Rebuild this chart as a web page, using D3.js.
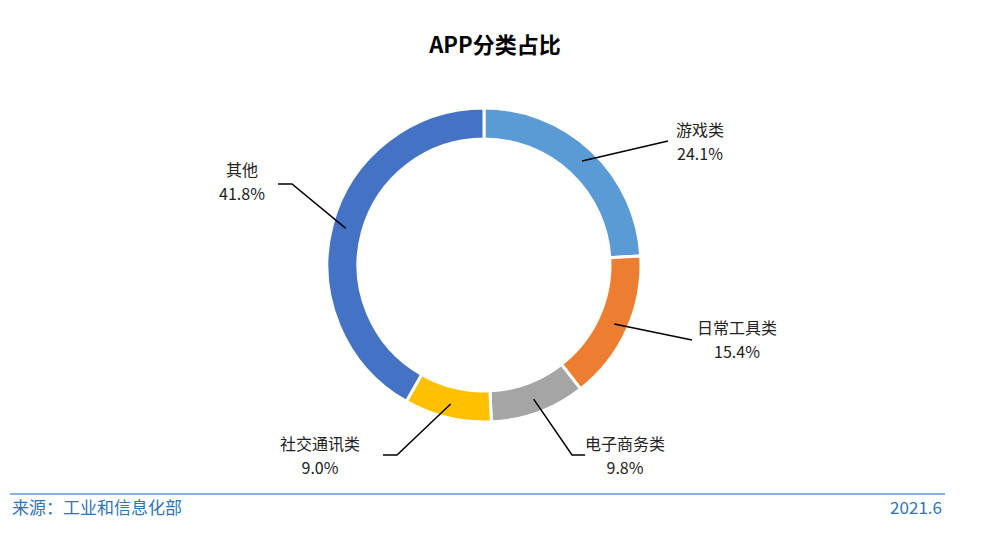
<!DOCTYPE html>
<html><head><meta charset="utf-8">
<script src="https://cdn.jsdelivr.net/npm/d3@7"></script>
<style>body{margin:0;background:#fff}text{font-family:"Noto Sans CJK SC","Noto Sans",sans-serif}</style>
</head><body>
<script>
var categories = ["游戏类", "日常工具类", "电子商务类", "社交通讯类", "其他"];
var values = [24.1, 15.4, 9.8, 9.0, 41.8];
var colors = ["#5B9BD5", "#ED7D31", "#A5A5A5", "#FFC000", "#4472C4"];
// label anchor points and leader elbows
var labelPos = [[700, 130], [737, 328], [625, 444], [320, 444], [242, 170]];
var elbows = [[668, 141], [692, 340], [572, 455], [397, 455], [292, 184]];
var ends = [[668, 141], [692, 340], [585, 455], [383, 455], [278, 184]];

var W = 990, H = 542, cx = 484, cy = 265, rOut = 157, rIn = 126;
var svg = d3.select("body").append("svg").attr("width", W).attr("height", H);

svg.append("text").attr("x", 495).attr("y", 53).attr("text-anchor", "middle")
  .style("font-size", "22px").style("font-weight", "bold").text("APP分类占比");

var pie = d3.pie().sort(null).value(function(d){ return d; });
var arc = d3.arc().innerRadius(rIn).outerRadius(rOut);
var mid = d3.arc().innerRadius(rOut - 14).outerRadius(rOut - 14);
var arcs = pie(values);

var g = svg.append("g").attr("transform", "translate(" + cx + "," + cy + ")");
g.selectAll("path").data(arcs).enter().append("path")
  .attr("d", arc).attr("fill", function(d, i){ return colors[i]; })
  .attr("stroke", "#fff").attr("stroke-width", 3);

arcs.forEach(function(d, i){
  var c = mid.centroid(d);
  var p0 = [cx + c[0], cy + c[1]];
  svg.append("polyline")
    .attr("points", [p0, elbows[i], ends[i]].map(function(p){ return p.join(","); }).join(" "))
    .attr("fill", "none").attr("stroke", "#000").attr("stroke-width", 1.5);
  var t = svg.append("text").attr("text-anchor", "middle").style("font-size", "16px").attr("fill", "#222");
  t.append("tspan").attr("x", labelPos[i][0]).attr("y", labelPos[i][1] + 6).text(categories[i]);
  t.append("tspan").attr("x", labelPos[i][0]).attr("y", labelPos[i][1] + 30).text(values[i].toFixed(1) + "%");
});

svg.append("line").attr("x1", 10).attr("x2", 945).attr("y1", 494).attr("y2", 494)
  .attr("stroke", "#5B9BD5").attr("stroke-width", 1.5);
svg.append("text").attr("x", 12).attr("y", 514).attr("fill", "#2E75B6").style("font-size", "17px").text("来源：工业和信息化部");
svg.append("text").attr("x", 942).attr("y", 514).attr("text-anchor", "end").attr("fill", "#2E75B6").style("font-size", "17px").text("2021.6");
</script>
</body></html>
